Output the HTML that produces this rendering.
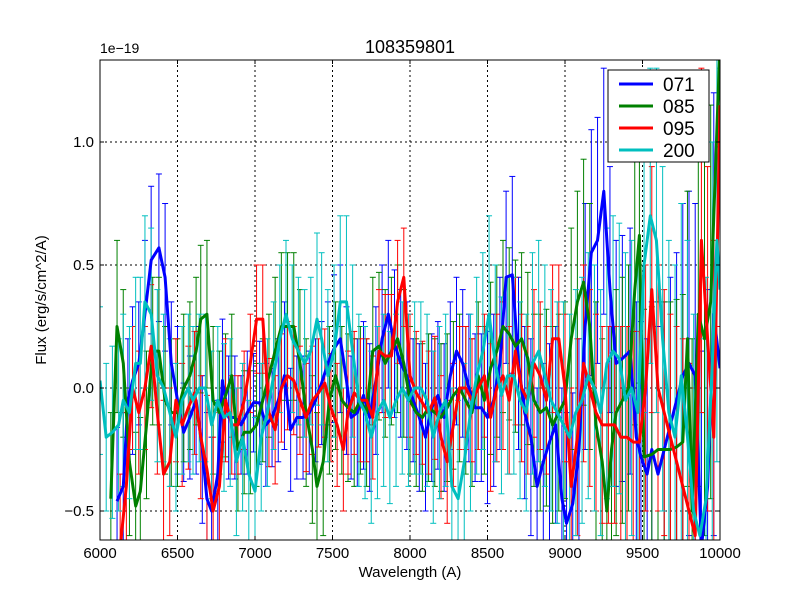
<!DOCTYPE html>
<html><head><meta charset="utf-8"><style>
html,body{margin:0;padding:0;background:#fff;width:800px;height:600px;overflow:hidden;font-family:"Liberation Sans","DejaVu Sans",sans-serif}
svg{display:block}
svg text{font-family:"Liberation Sans","DejaVu Sans",sans-serif}
</style></head><body>
<svg id="chart" width="800" height="600" xmlns="http://www.w3.org/2000/svg">
<defs><clipPath id="clip"><rect x="100" y="60" width="620" height="480"/></clipPath></defs>
<rect x="0" y="0" width="800" height="600" fill="#fff"/>
<g id="grid"></g>
<g id="series" clip-path="url(#clip)"></g>
<rect x="100" y="60" width="620" height="480" fill="none" stroke="#000" stroke-width="1"/>
<g id="axes"></g>
<text x="410" y="53" font-size="18" text-anchor="middle">108359801</text>
<text x="100" y="53" font-size="14">1e−19</text>
<text x="410" y="577" font-size="15" text-anchor="middle">Wavelength (A)</text>
<text x="46" y="300" font-size="15" text-anchor="middle" transform="rotate(-90 46 300)">Flux (erg/s/cm^2/A)</text>
<g id="legend">
<rect x="608" y="70" width="101" height="92" fill="#fff" stroke="#000" stroke-width="1"/>
</g>
</svg>
<script>
const xTicks=[6000,6500,7000,7500,8000,8500,9000,9500,10000];
const yTicks=[-0.5,0.0,0.5,1.0];
const yTickLabels=["−0.5","0.0","0.5","1.0"];
const seriesNames=["071","085","095","200"];
const seriesColors=["#0000ff","#008000","#ff0000","#00bfbf"];

const w071=[6110,6150,6180,6210,6250,6290,6330,6380,6420,6460,6500,6540,6580,6620,6660,6690,6720,6760,6790,6830,6870,6910,6950,6990,7030,7070,7110,7150,7190,7230,7270,7310,7350,7390,7430,7470,7510,7550,7590,7620,7660,7700,7740,7780,7820,7860,7900,7940,7980,8020,8060,8100,8140,8180,8220,8260,8300,8340,8380,8420,8460,8500,8540,8580,8620,8660,8700,8740,8780,8820,8860,8900,8940,8980,9010,9050,9090,9130,9170,9210,9250,9290,9330,9370,9420,9460,9490,9530,9560,9600,9640,9680,9720,9760,9800,9840,9880,9920,9960,10000];
const f071=[-0.46,-0.40,-0.05,0.03,0.10,0.30,0.52,0.57,0.45,0.10,-0.05,-0.18,-0.12,-0.05,-0.25,-0.45,-0.50,-0.35,0.03,-0.12,-0.12,-0.15,-0.10,-0.06,-0.06,-0.15,-0.12,-0.05,0.05,-0.17,-0.12,-0.12,-0.10,-0.05,0.02,0.10,0.16,0.20,0.03,-0.12,-0.10,-0.03,-0.12,0.03,0.20,0.30,0.18,0.10,0.05,-0.05,-0.12,-0.20,-0.08,-0.03,-0.12,0.05,0.15,0.10,0.00,-0.08,-0.08,-0.12,-0.05,0.10,0.45,0.46,0.10,-0.10,-0.20,-0.40,-0.30,-0.22,-0.15,-0.45,-0.55,-0.47,-0.25,0.25,0.55,0.60,0.80,0.40,0.10,0.12,0.15,-0.20,-0.28,-0.35,-0.25,-0.35,-0.25,-0.15,-0.05,0.05,0.10,0.05,-0.65,-0.40,0.30,0.08];
const e071=[0.3,0.3,0.25,0.3,0.25,0.3,0.3,0.3,0.3,0.25,0.3,0.2,0.25,0.3,0.3,0.35,0.3,0.3,0.25,0.25,0.25,0.2,0.25,0.2,0.25,0.25,0.2,0.25,0.3,0.25,0.25,0.25,0.25,0.25,0.25,0.25,0.3,0.3,0.3,0.25,0.3,0.3,0.3,0.3,0.3,0.3,0.3,0.3,0.3,0.25,0.3,0.3,0.3,0.3,0.3,0.3,0.3,0.3,0.3,0.3,0.3,0.35,0.35,0.35,0.35,0.4,0.35,0.35,0.4,0.4,0.4,0.4,0.4,0.45,0.45,0.45,0.45,0.5,0.5,0.5,0.5,0.5,0.5,0.5,0.5,0.55,0.55,0.55,0.6,0.6,0.6,0.6,0.6,0.7,0.7,0.7,0.8,0.8,0.9,0.9];

const w085=[6070,6110,6150,6190,6230,6260,6300,6340,6380,6420,6460,6500,6540,6580,6620,6650,6690,6730,6770,6810,6850,6890,6930,6970,7010,7050,7090,7130,7170,7210,7250,7290,7330,7370,7400,7440,7480,7520,7560,7600,7640,7680,7720,7760,7800,7840,7880,7920,7960,8000,8040,8080,8120,8160,8200,8240,8280,8320,8360,8400,8440,8480,8520,8560,8600,8640,8680,8720,8760,8800,8840,8880,8920,8960,9000,9040,9080,9120,9160,9200,9240,9270,9300,9330,9370,9410,9450,9480,9510,9560,9600,9640,9680,9720,9760,9790,9820,9860,9900,9940,10000];
const f085=[-0.45,0.25,0.10,-0.30,-0.48,-0.42,-0.15,0.15,0.15,-0.05,-0.10,-0.10,0.00,0.05,0.15,0.28,0.30,-0.05,-0.10,-0.03,0.05,-0.25,-0.18,-0.18,-0.15,-0.05,0.05,0.15,0.25,0.25,0.25,0.10,-0.10,-0.25,-0.40,-0.30,-0.05,0.05,-0.05,-0.08,-0.10,-0.05,-0.10,0.15,0.17,0.10,0.15,0.20,0.10,-0.05,-0.10,-0.12,-0.08,-0.10,-0.12,-0.08,-0.03,0.00,-0.05,-0.10,0.05,-0.05,0.08,0.15,0.25,0.22,0.17,0.20,0.12,-0.05,-0.10,-0.08,-0.15,-0.10,-0.05,0.20,0.35,0.43,0.25,-0.15,-0.30,-0.50,-0.25,-0.10,-0.05,0.00,0.40,0.62,-0.28,-0.27,-0.25,-0.25,-0.25,-0.24,-0.22,0.20,-0.50,0.30,0.20,0.35,1.40];
const e085=[0.35,0.35,0.3,0.3,0.3,0.3,0.3,0.3,0.3,0.3,0.3,0.3,0.3,0.3,0.3,0.3,0.3,0.3,0.25,0.25,0.25,0.25,0.25,0.25,0.25,0.25,0.25,0.3,0.3,0.3,0.3,0.3,0.3,0.3,0.3,0.3,0.3,0.3,0.3,0.3,0.3,0.3,0.3,0.3,0.3,0.3,0.3,0.3,0.3,0.3,0.3,0.3,0.3,0.3,0.3,0.3,0.3,0.3,0.3,0.3,0.3,0.3,0.35,0.35,0.35,0.35,0.35,0.35,0.35,0.35,0.4,0.4,0.4,0.4,0.4,0.45,0.45,0.5,0.5,0.5,0.5,0.5,0.5,0.5,0.5,0.5,0.55,0.6,0.6,0.6,0.6,0.6,0.6,0.6,0.6,0.6,0.7,0.7,0.8,0.8,0.9];

const w095=[6130,6170,6210,6250,6290,6330,6370,6410,6450,6490,6530,6570,6610,6650,6690,6730,6770,6810,6850,6890,6930,6970,7010,7050,7090,7130,7170,7210,7250,7290,7330,7370,7410,7450,7490,7530,7570,7600,7640,7680,7720,7760,7800,7840,7880,7920,7960,8000,8040,8080,8120,8160,8200,8240,8280,8320,8360,8400,8440,8480,8520,8560,8600,8640,8680,8720,8760,8800,8840,8880,8920,8960,9000,9040,9080,9120,9160,9200,9240,9280,9320,9360,9400,9440,9480,9520,9560,9600,9640,9680,9720,9760,9800,9840,9880,9920,9960,10000];
const f095=[-0.65,-0.40,0.00,-0.10,0.00,0.17,-0.10,-0.35,-0.30,-0.05,-0.15,-0.08,-0.02,-0.20,-0.33,-0.50,-0.40,-0.05,-0.15,-0.15,-0.05,0.10,0.28,0.28,-0.10,-0.17,0.00,0.05,0.03,-0.05,-0.12,-0.05,-0.02,0.02,-0.08,-0.15,-0.25,-0.10,-0.02,-0.05,-0.05,-0.12,0.15,0.13,0.13,0.35,0.45,0.05,-0.02,-0.06,-0.10,-0.04,-0.20,-0.30,-0.15,0.00,0.00,-0.05,0.00,0.05,-0.12,0.00,0.05,-0.05,0.15,0.00,-0.05,0.10,0.05,-0.05,0.20,0.20,0.00,-0.40,-0.20,0.10,0.00,-0.10,-0.15,-0.15,-0.15,-0.20,-0.20,-0.22,-0.22,0.00,0.40,0.00,-0.10,-0.20,-0.30,-0.40,-0.50,-0.60,0.60,0.20,-0.20,1.15];
const e095=[0.3,0.3,0.25,0.25,0.25,0.25,0.25,0.3,0.3,0.25,0.25,0.25,0.25,0.25,0.3,0.3,0.3,0.25,0.2,0.2,0.2,0.2,0.22,0.22,0.22,0.22,0.22,0.22,0.22,0.22,0.22,0.22,0.22,0.22,0.22,0.25,0.25,0.25,0.25,0.25,0.25,0.25,0.25,0.25,0.25,0.25,0.2,0.25,0.25,0.25,0.25,0.25,0.25,0.25,0.25,0.25,0.25,0.25,0.25,0.25,0.3,0.3,0.3,0.3,0.3,0.3,0.3,0.3,0.3,0.3,0.3,0.3,0.3,0.4,0.4,0.4,0.4,0.4,0.4,0.4,0.4,0.45,0.45,0.45,0.45,0.5,0.5,0.5,0.5,0.5,0.55,0.6,0.6,0.6,0.7,0.7,0.8,0.9];

const w200=[6000,6040,6080,6120,6150,6190,6230,6260,6290,6330,6370,6410,6450,6490,6530,6570,6600,6640,6680,6720,6760,6800,6840,6880,6920,6960,7000,7040,7080,7120,7160,7200,7240,7280,7320,7360,7400,7430,7470,7510,7550,7590,7630,7670,7710,7750,7790,7830,7870,7910,7950,7990,8030,8070,8110,8150,8190,8230,8270,8310,8350,8390,8430,8470,8510,8550,8590,8630,8670,8710,8750,8790,8830,8870,8910,8950,8990,9030,9070,9110,9150,9190,9230,9270,9310,9350,9390,9430,9470,9510,9550,9590,9630,9670,9710,9750,9790,9830,9870,9910,9950,9980,10000];
const f200=[0.03,-0.20,-0.18,-0.15,-0.05,-0.10,0.10,0.10,0.35,0.30,0.05,0.00,-0.10,-0.20,-0.05,0.00,-0.05,0.00,0.00,-0.15,-0.05,-0.12,-0.10,-0.30,-0.20,-0.35,-0.42,-0.20,-0.10,0.05,0.20,0.30,0.20,0.15,0.10,0.15,0.28,0.20,0.05,0.15,0.35,0.35,0.15,-0.05,-0.10,-0.20,-0.10,-0.05,-0.12,-0.05,0.00,-0.05,0.00,0.00,-0.05,-0.20,-0.10,-0.05,-0.40,-0.45,-0.30,-0.10,0.05,0.15,0.30,0.10,-0.03,0.05,0.05,-0.05,-0.10,0.10,0.15,0.05,-0.05,-0.10,-0.15,-0.20,-0.10,-0.05,0.05,0.00,-0.10,0.10,0.15,0.12,-0.05,0.00,-0.10,0.50,0.70,0.60,0.20,-0.10,-0.20,0.05,-0.20,-0.50,-0.60,-0.45,0.10,0.60,0.40];
const e200=[0.3,0.3,0.35,0.35,0.35,0.35,0.35,0.35,0.35,0.35,0.35,0.3,0.3,0.3,0.3,0.3,0.3,0.3,0.3,0.3,0.3,0.3,0.3,0.3,0.3,0.3,0.3,0.3,0.3,0.3,0.3,0.3,0.3,0.3,0.3,0.3,0.35,0.35,0.35,0.35,0.35,0.35,0.35,0.35,0.35,0.35,0.35,0.35,0.35,0.35,0.35,0.35,0.35,0.35,0.35,0.35,0.35,0.35,0.4,0.4,0.4,0.4,0.4,0.4,0.4,0.4,0.4,0.4,0.4,0.4,0.4,0.45,0.45,0.45,0.45,0.45,0.5,0.5,0.5,0.5,0.5,0.5,0.5,0.55,0.55,0.55,0.6,0.6,0.6,0.6,0.6,0.7,0.7,0.7,0.7,0.7,0.8,0.8,0.8,0.9,0.9,0.9,0.9];

const NS="http://www.w3.org/2000/svg";
const X0=100,X1=720,Y0=60,Y1=540,XMIN=6000,XMAX=10000,YMIN=-0.6179,YMAX=1.3333;
function sx(v){return X0+(v-XMIN)/(XMAX-XMIN)*(X1-X0);}
function sy(v){return Y1-(v-YMIN)/(YMAX-YMIN)*(Y1-Y0);}
function clampY(y){return Math.max(Y0,Math.min(Y1,y));}
function mk(tag,attrs,parent){const e=document.createElementNS(NS,tag);for(const k in attrs)e.setAttribute(k,attrs[k]);parent.appendChild(e);return e;}

const grid=document.getElementById('grid'),axes=document.getElementById('axes'),ser=document.getElementById('series'),leg=document.getElementById('legend');
xTicks.forEach(t=>{
  const x=sx(t);
  const g=mk('line',{x1:x,x2:x,y1:Y0,y2:Y1,stroke:'#000','stroke-dasharray':'2,3','stroke-width':1},grid);
  
  
  mk('line',{x1:x,x2:x,y1:Y1,y2:Y1-4,stroke:'#000'},axes);
  mk('line',{x1:x,x2:x,y1:Y0,y2:Y0+4,stroke:'#000'},axes);
  const l=mk('text',{x:x,y:Y1+18,'font-size':15,'text-anchor':'middle'},axes);
  l.textContent=t;
  
  
});
yTicks.forEach((t,i)=>{
  const y=sy(t);
  const g=mk('line',{x1:X0,x2:X1,y1:y,y2:y,stroke:'#000','stroke-dasharray':'2,3','stroke-width':1},grid);
  
  
  mk('line',{x1:X0,x2:X0+4,y1:y,y2:y,stroke:'#000'},axes);
  mk('line',{x1:X1,x2:X1-4,y1:y,y2:y,stroke:'#000'},axes);
  const l=mk('text',{x:X0-6,y:y+5,'font-size':15,'text-anchor':'end'},axes);
  l.textContent=yTickLabels[i];
  
  
});

const allW=[w071,w085,w095,w200],allF=[f071,f085,f095,f200],allE=[e071,e085,e095,e200];
allW.forEach((ws,s)=>{
  const fs=allF[s],es=allE[s],col=seriesColors[s];
  const g=mk('g',{},ser);
  
  
  const n=Math.min(ws.length,fs.length);
  for(let i=0;i<n;i++){
    const e=(es[i]!==undefined?es[i]:0.3);
    const x=sx(ws[i]),yt0=sy(fs[i]+e),yb0=sy(fs[i]-e);
    const yt=clampY(yt0),yb=clampY(yb0);
    mk('line',{x1:x,x2:x,y1:yt,y2:yb,stroke:col,'stroke-width':1},g);
    if(yt0>=Y0)mk('line',{x1:x-3,x2:x+3,y1:yt,y2:yt,stroke:col,'stroke-width':1},g);
    if(yb0<=Y1)mk('line',{x1:x-3,x2:x+3,y1:yb,y2:yb,stroke:col,'stroke-width':1},g);
  }
});
allW.forEach((ws,s)=>{
  const fs=allF[s];
  const n=Math.min(ws.length,fs.length);
  let d='';
  for(let i=0;i<n;i++)d+=(i?'L':'M')+sx(ws[i]).toFixed(1)+','+sy(fs[i]).toFixed(1);
  const p=mk('path',{d:d,fill:'none',stroke:seriesColors[s],'stroke-width':3,'stroke-linejoin':'round'},ser);
  
  
});
seriesNames.forEach((nm,i)=>{
  const y=84+i*22;
  const g=mk('g',{},leg);
  
  
  mk('line',{x1:619,x2:653,y1:y,y2:y,stroke:seriesColors[i],'stroke-width':3},g);
  const t=mk('text',{x:663,y:y+7,'font-size':19},g);
  t.textContent=nm;
});
</script>
</body></html>
